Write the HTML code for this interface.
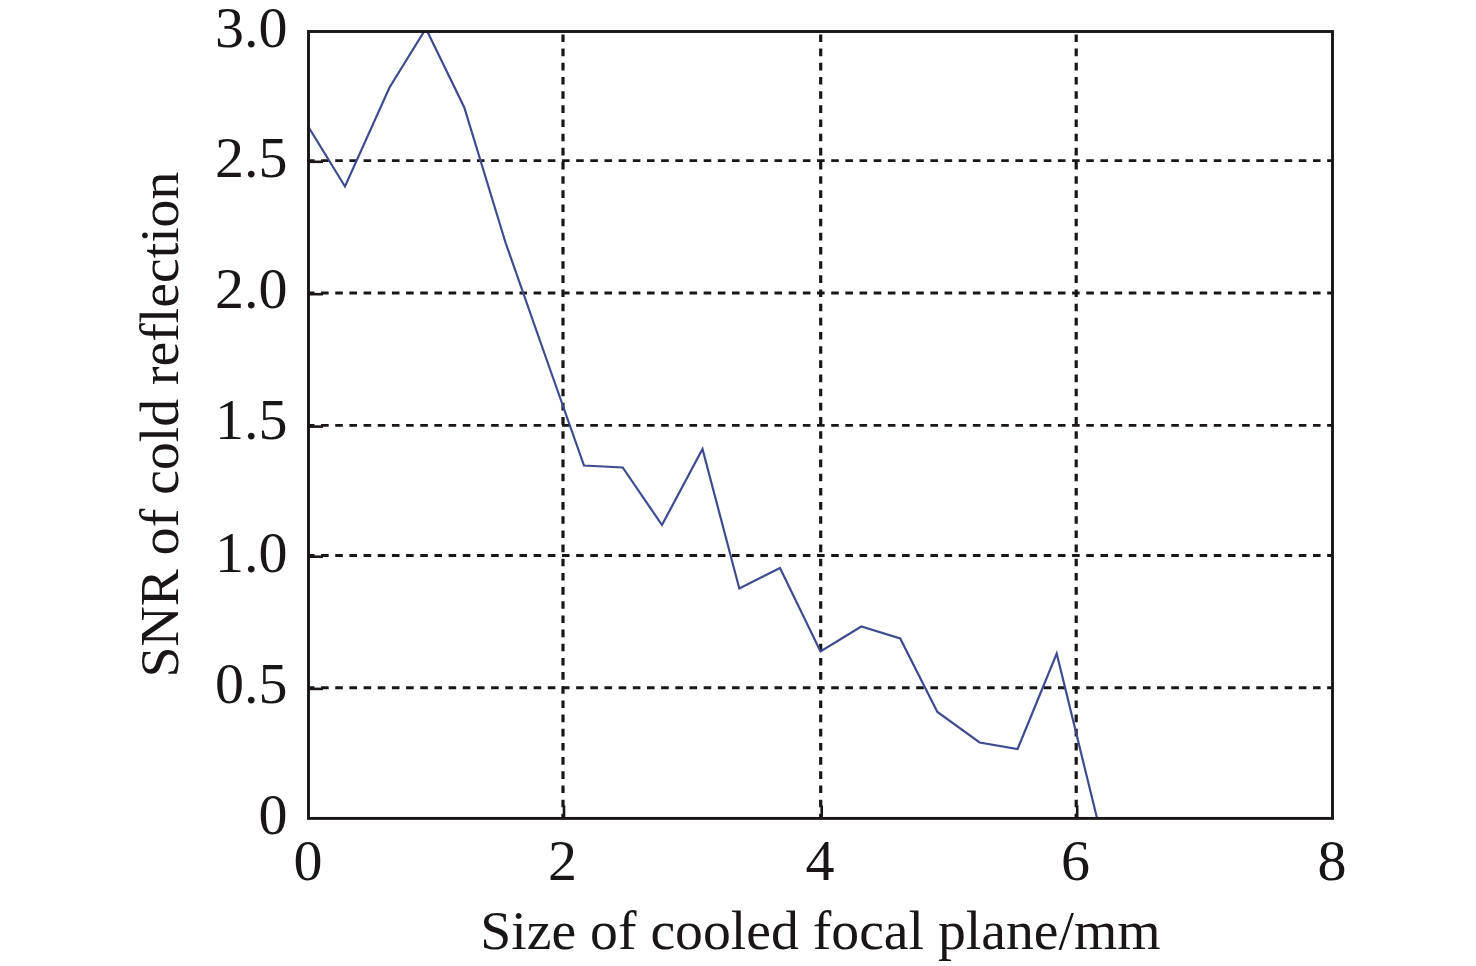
<!DOCTYPE html>
<html><head><meta charset="utf-8"><style>
html,body{margin:0;padding:0;background:#fff;width:1476px;height:966px;overflow:hidden}
svg{display:block}
.t{font-family:"Liberation Serif",serif;font-size:58px;fill:#1a1617}
.ti{font-family:"Liberation Serif",serif;font-size:55.7px;fill:#1a1617}
</style></head><body>
<svg width="1476" height="966" viewBox="0 0 1476 966">
<rect width="1476" height="966" fill="#fff"/>
<line x1="563" y1="818.4" x2="563" y2="31.5" stroke="#1a1617" stroke-width="3.2" stroke-dasharray="7.6 6.57" stroke-dashoffset="3.0"/>
<line x1="820.7" y1="818.4" x2="820.7" y2="31.5" stroke="#1a1617" stroke-width="3.2" stroke-dasharray="7.6 6.57" stroke-dashoffset="3.0"/>
<line x1="1076.2" y1="818.4" x2="1076.2" y2="31.5" stroke="#1a1617" stroke-width="3.2" stroke-dasharray="7.6 6.57" stroke-dashoffset="3.0"/>
<line x1="308.5" y1="160.6" x2="1332.5" y2="160.6" stroke="#1a1617" stroke-width="2.9" stroke-dasharray="7.6 6.57" stroke-dashoffset="1.6"/>
<line x1="308.5" y1="293" x2="1332.5" y2="293" stroke="#1a1617" stroke-width="2.9" stroke-dasharray="7.6 6.57" stroke-dashoffset="1.6"/>
<line x1="308.5" y1="425.4" x2="1332.5" y2="425.4" stroke="#1a1617" stroke-width="2.9" stroke-dasharray="7.6 6.57" stroke-dashoffset="1.6"/>
<line x1="308.5" y1="555.5" x2="1332.5" y2="555.5" stroke="#1a1617" stroke-width="2.9" stroke-dasharray="7.6 6.57" stroke-dashoffset="1.6"/>
<line x1="308.5" y1="687.7" x2="1332.5" y2="687.7" stroke="#1a1617" stroke-width="2.9" stroke-dasharray="7.6 6.57" stroke-dashoffset="1.6"/>
<line x1="564" y1="818.4" x2="564" y2="805.4" stroke="#1a1617" stroke-width="2.6"/>
<line x1="821.7" y1="818.4" x2="821.7" y2="805.4" stroke="#1a1617" stroke-width="2.6"/>
<line x1="1077.2" y1="818.4" x2="1077.2" y2="805.4" stroke="#1a1617" stroke-width="2.6"/>
<line x1="308.5" y1="161.79999999999998" x2="323.0" y2="161.79999999999998" stroke="#1a1617" stroke-width="2.6"/>
<line x1="308.5" y1="294.2" x2="323.0" y2="294.2" stroke="#1a1617" stroke-width="2.6"/>
<line x1="308.5" y1="426.59999999999997" x2="323.0" y2="426.59999999999997" stroke="#1a1617" stroke-width="2.6"/>
<line x1="308.5" y1="556.7" x2="323.0" y2="556.7" stroke="#1a1617" stroke-width="2.6"/>
<line x1="308.5" y1="688.9000000000001" x2="323.0" y2="688.9000000000001" stroke="#1a1617" stroke-width="2.6"/>
<clipPath id="c"><rect x="308.5" y="31.5" width="1024.0" height="786.9"/></clipPath>
<path clip-path="url(#c)" d="M308.5,127 L345,186.5 L389.5,87.5 L425.9,28.5 L464.3,107.5 L505.5,242.5 L545,355 L584,465.5 L622.7,467.5 L662,525 L702.5,449 L739.3,588.5 L780,568 L820.5,651.5 L861.3,626.5 L900.2,638.4 L937.4,712 L979.6,742.5 L1017.6,749 L1056.7,653.5 L1097,818" fill="none" stroke="#3f4b8f" stroke-width="2.2" stroke-linejoin="miter"/>
<rect x="308.5" y="31.5" width="1024.0" height="786.9" fill="none" stroke="#1a1617" stroke-width="2.9"/>
<text x="287.4" y="46.9" text-anchor="end" class="t">3.0</text>
<text x="287.4" y="177.3" text-anchor="end" class="t">2.5</text>
<text x="287.4" y="308.1" text-anchor="end" class="t">2.0</text>
<text x="287.4" y="439.1" text-anchor="end" class="t">1.5</text>
<text x="287.4" y="571.7" text-anchor="end" class="t">1.0</text>
<text x="287.4" y="703.1" text-anchor="end" class="t">0.5</text>
<text x="287.4" y="833.8" text-anchor="end" class="t">0</text>
<text x="307.9" y="879.7" text-anchor="middle" class="t">0</text>
<text x="562.4" y="879.7" text-anchor="middle" class="t">2</text>
<text x="820.1" y="879.7" text-anchor="middle" class="t">4</text>
<text x="1075.6" y="879.7" text-anchor="middle" class="t">6</text>
<text x="1331.9" y="879.7" text-anchor="middle" class="t">8</text>
<text x="480.3" y="948.5" class="ti">Size of cooled focal plane/mm</text>
<text transform="translate(177.5,677.4) rotate(-90)" x="0" y="0" class="ti">SNR of cold reflection</text>
</svg>
</body></html>
